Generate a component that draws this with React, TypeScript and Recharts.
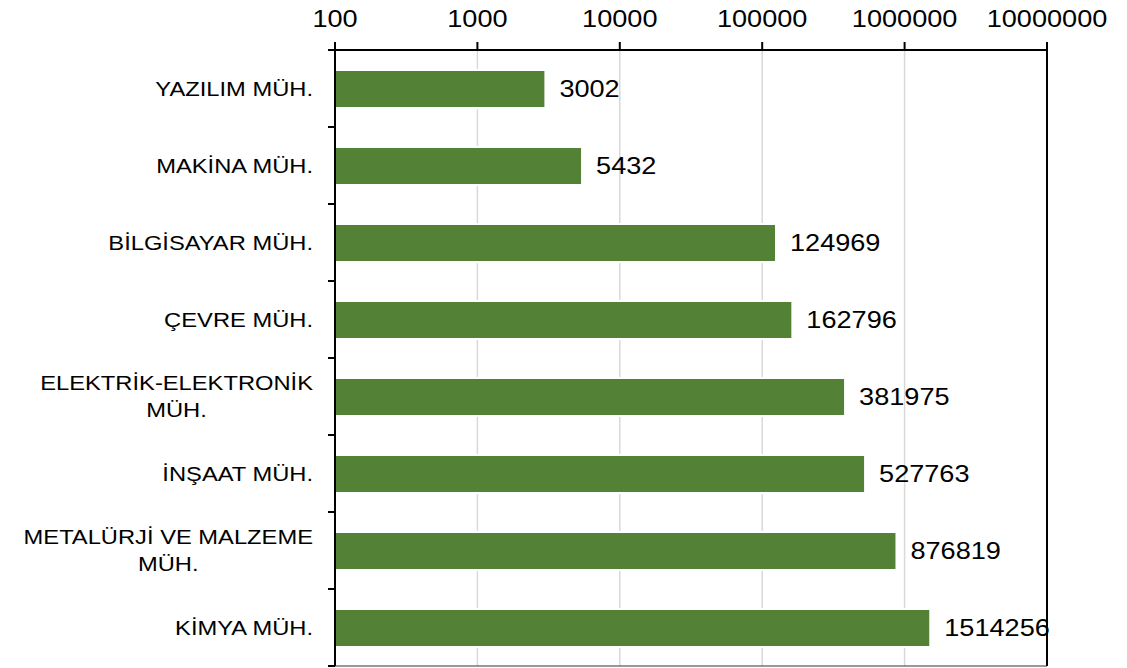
import { BarChart, Bar, XAxis, YAxis, CartesianGrid, LabelList, ReferenceLine } from 'recharts';

const categories = [
    'YAZILIM MÜH.',
    'MAKİNA MÜH.',
    'BİLGİSAYAR MÜH.',
    'ÇEVRE MÜH.',
    'ELEKTRİK-ELEKTRONİK MÜH.',
    'İNŞAAT MÜH.',
    'METALÜRJİ VE MALZEME MÜH.',
    'KİMYA MÜH.',
];
const values = [3002, 5432, 124969, 162796, 381975, 527763, 876819, 1514256];
const xTicks = [100, 1000, 10000, 100000, 1000000, 10000000];

const FONT = '"Liberation Sans", Arial, sans-serif';
const PLOT_LEFT = 335;
const BAND = 77;
const GREEN = '#538135';
const SX = 1.13; // the original picture is a bit wider than tall

const data = categories.map((name, i) => ({ name, value: values[i] }));

let measureCtx: CanvasRenderingContext2D | null = null;
function textWidth(s: string, size: number) {
    if (!measureCtx) measureCtx = document.createElement('canvas').getContext('2d');
    if (!measureCtx) return s.length * size * 0.6;
    measureCtx.font = `${size}px "Liberation Sans"`;
    return measureCtx.measureText(s).width;
}

function WideText({ x, y, size, anchor = 'start', middle = true, children }: any) {
    return (
        <text
            transform={`translate(${x},${y}) scale(${SX},1)`}
            x={0}
            y={0}
            textAnchor={anchor}
            dominantBaseline={middle ? 'central' : 'auto'}
            fontSize={size}
            fontFamily={FONT}
            fill="#000"
        >
            {children}
        </text>
    );
}

function TopTick(props: any) {
    const { x, y, payload } = props;
    return (
        <WideText x={x} y={y} size={24} anchor="middle" middle={false}>
            {payload.value}
        </WideText>
    );
}

function CatTick(props: any) {
    const { y, payload, index } = props;
    const name: string = payload.value;
    const right = PLOT_LEFT - 22;
    let lines = [name];
    if (name.length > 18) {
        const cut = name.lastIndexOf(' ');
        lines = [name.slice(0, cut), name.slice(cut + 1)];
    }
    const size = 21;
    return (
        <g>
            <line x1={PLOT_LEFT - 7} x2={PLOT_LEFT} y1={y - BAND / 2} y2={y - BAND / 2} stroke="#000" strokeWidth={2} />
            {index === categories.length - 1 && (
                <line x1={PLOT_LEFT - 7} x2={PLOT_LEFT} y1={y + BAND / 2} y2={y + BAND / 2} stroke="#000" strokeWidth={2} />
            )}
            {lines.length === 1 ? (
                <WideText x={right} y={y} size={size} anchor="end">
                    {name}
                </WideText>
            ) : (
                <>
                    <WideText x={right} y={y - 13.5} size={size} anchor="end">
                        {lines[0]}
                    </WideText>
                    <WideText x={right - (textWidth(lines[0], size) * SX) / 2} y={y + 13.5} size={size} anchor="middle">
                        {lines[1]}
                    </WideText>
                </>
            )}
        </g>
    );
}

function ValueLabel(props: any) {
    const vb = props.viewBox || {};
    const x = props.x ?? vb.x;
    const y = props.y ?? vb.y;
    const width = props.width ?? vb.width;
    const height = props.height ?? vb.height;
    return (
        <WideText x={x + width + 14} y={y + height / 2} size={24}>
            {props.value}
        </WideText>
    );
}

export default function App() {
    return (
        <div style={{ position: 'absolute', left: 0, top: 0, background: '#fff' }}>
            <BarChart
                width={1127}
                height={668}
                data={data}
                layout="vertical"
                margin={{ top: 0, right: 80, bottom: 1, left: 0 }}
                barCategoryGap={0}
            >
                <CartesianGrid xAxisId="top" horizontal={false} stroke="#d9d9d9" strokeWidth={1.5} />
                <XAxis
                    xAxisId="top"
                    type="number"
                    scale="log"
                    domain={[100, 10000000]}
                    allowDataOverflow
                    ticks={xTicks}
                    interval={0}
                    orientation="top"
                    height={50}
                    axisLine={{ stroke: '#000', strokeWidth: 2 }}
                    tickLine={{ stroke: '#000', strokeWidth: 2 }}
                    tickSize={8}
                    tickMargin={15}
                    tick={<TopTick />}
                />
                <XAxis
                    xAxisId="bottom"
                    type="number"
                    scale="log"
                    domain={[100, 10000000]}
                    allowDataOverflow
                    orientation="bottom"
                    height={1}
                    tick={false}
                    tickLine={false}
                    axisLine={{ stroke: '#333', strokeWidth: 1 }}
                />
                <YAxis
                    type="category"
                    dataKey="name"
                    width={PLOT_LEFT}
                    interval={0}
                    axisLine={{ stroke: '#000', strokeWidth: 2 }}
                    tickLine={false}
                    tick={<CatTick />}
                />
                <ReferenceLine xAxisId="top" x={10000000} stroke="#000" strokeWidth={2} />
                <Bar
                    dataKey="value"
                    xAxisId="top"
                    fill={GREEN}
                    barSize={38}
                    stroke="#fff"
                    strokeWidth={2}
                    isAnimationActive={false}
                >
                    <LabelList dataKey="value" content={<ValueLabel />} />
                </Bar>
            </BarChart>
        </div>
    );
}
